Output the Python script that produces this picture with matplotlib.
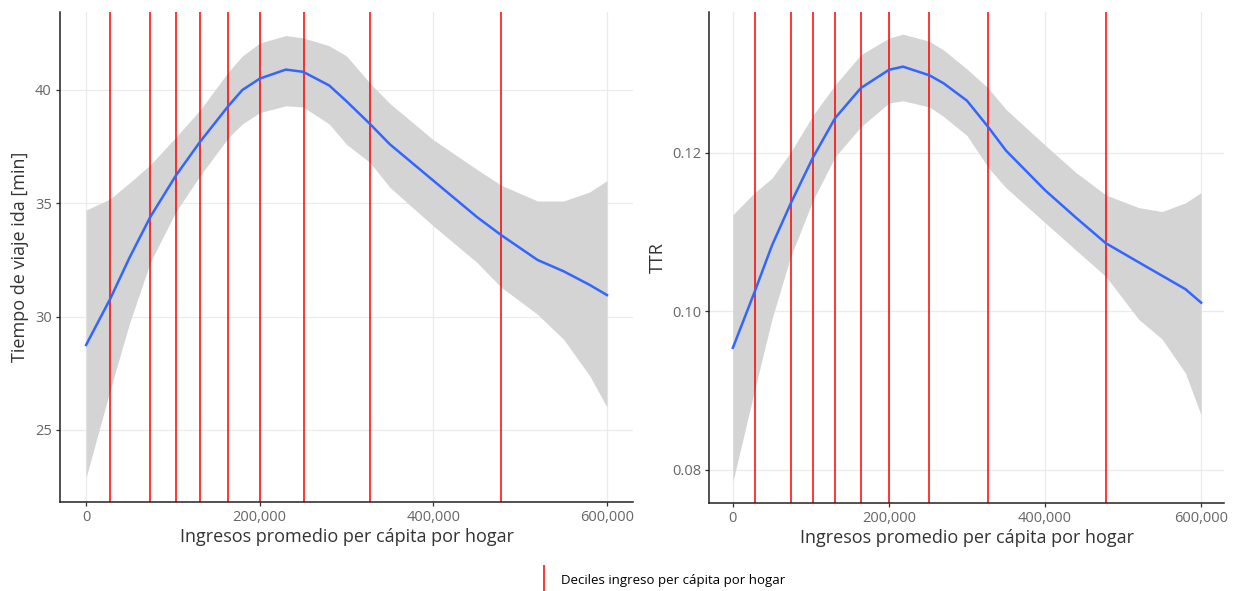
import matplotlib.pyplot as plt
from matplotlib.lines import Line2D
from matplotlib.ticker import FuncFormatter

plt.rcParams['font.family'] = ['Open Sans', 'DejaVu Sans']

# income deciles (vertical red lines)
deciles = [28000, 74000, 103000, 131000, 164000, 200000, 251000, 327000, 478000]

# left panel: travel time smooth + confidence band
x_left = [0, 28000, 50000, 74000, 103000, 131000, 164000, 180000, 200000, 230000, 250000,
          280000, 300000, 327000, 350000, 400000, 450000, 478000, 520000, 550000, 580000, 600000]
time_mean = [28.75, 30.8, 32.6, 34.4, 36.2, 37.7, 39.3, 40.0, 40.5, 40.9, 40.8,
             40.2, 39.5, 38.5, 37.6, 36.0, 34.4, 33.6, 32.5, 32.0, 31.4, 30.95]
time_upper = [34.7, 35.2, 35.9, 36.7, 37.9, 39.1, 40.8, 41.5, 42.07, 42.4, 42.3,
              41.95, 41.5, 40.3, 39.4, 37.8, 36.5, 35.8, 35.1, 35.1, 35.5, 36.0]
time_lower = [22.9, 26.8, 29.7, 32.4, 34.6, 36.2, 37.9, 38.5, 39.0, 39.3, 39.25,
              38.5, 37.6, 36.8, 35.7, 34.0, 32.4, 31.3, 30.1, 29.0, 27.4, 26.0]

# right panel: TTR smooth + confidence band
x_right = [0, 28000, 50000, 74000, 103000, 131000, 164000, 200000, 218000, 252000, 270000,
           300000, 327000, 350000, 400000, 440000, 478000, 520000, 550000, 580000, 600000]
ttr_mean = [0.0954, 0.1025, 0.1083, 0.1136, 0.1195, 0.1244, 0.1282, 0.1305, 0.1309, 0.1298, 0.1288,
            0.1266, 0.1233, 0.1203, 0.1153, 0.1118, 0.1086, 0.1062, 0.1045, 0.1028, 0.1011]
ttr_upper = [0.1122, 0.1150, 0.1168, 0.1201, 0.1248, 0.1286, 0.1324, 0.1345, 0.1350, 0.1341, 0.1330,
             0.1306, 0.1282, 0.1255, 0.1210, 0.1175, 0.1147, 0.1131, 0.1126, 0.1137, 0.1150]
ttr_lower = [0.0785, 0.0901, 0.0990, 0.1069, 0.1141, 0.1195, 0.1233, 0.1263, 0.1266, 0.1258, 0.1246,
             0.1222, 0.1182, 0.1156, 0.1112, 0.1077, 0.1044, 0.0990, 0.0965, 0.0922, 0.0869]

x_ticks = [0, 200000, 400000, 600000]
xlabel = "Ingresos promedio per cápita por hogar"

fig = plt.figure(figsize=(12.33, 5.91), dpi=100)
ax1 = fig.add_axes([0.0487, 0.1506, 0.4647, 0.8291])
ax2 = fig.add_axes([0.5754, 0.1489, 0.4177, 0.8308])

panels = [
    (ax1, x_left, time_mean, time_lower, time_upper, "Tiempo de viaje ida [min]",
     (21.82, 43.44), [25, 30, 35, 40], lambda v, p: f"{v:.0f}"),
    (ax2, x_right, ttr_mean, ttr_lower, ttr_upper, "TTR",
     (0.0758, 0.1378), [0.08, 0.10, 0.12], lambda v, p: f"{v:.2f}"),
]

for ax, xs, mean, lo, hi, ylab, ylim, yticks, yfmt in panels:
    ax.fill_between(xs, lo, hi, color='#d4d4d4', linewidth=0, zorder=1)
    for d in deciles:
        ax.axvline(d, color='#ff0000', linewidth=1.1, zorder=2)
    ax.plot(xs, mean, color='#3366ff', linewidth=1.8, zorder=3)

    ax.set_xlim(-30000, 630000)
    ax.set_ylim(*ylim)
    ax.set_xticks(x_ticks)
    ax.set_yticks(yticks)
    ax.xaxis.set_major_formatter(FuncFormatter(lambda v, p: f"{v:,.0f}"))
    ax.yaxis.set_major_formatter(FuncFormatter(yfmt))
    ax.grid(True, color='#ebebeb', linewidth=0.9, zorder=0)
    ax.set_axisbelow(True)

    for s in ['top', 'right']:
        ax.spines[s].set_visible(False)
    for s in ['left', 'bottom']:
        ax.spines[s].set_color('#222222')
        ax.spines[s].set_linewidth(1.1)
    ax.tick_params(colors='#333333', labelcolor='#666666', labelsize=10.5,
                   length=3, width=0.9, pad=3)
    ax.set_xlabel(xlabel, fontsize=13, color='#333333', labelpad=2)
    ax.set_ylabel(ylab, fontsize=13, color='#333333', labelpad=4)

# legend at the bottom
handle = Line2D([], [], color='#ff0000', linewidth=1.1, marker='|', linestyle='None',
                markersize=22, markeredgewidth=1.1)
fig.legend([handle], ["Deciles ingreso per cápita por hogar"], loc='center',
           bbox_to_anchor=(0.535, 0.017), frameon=False, fontsize=9.5,
           handletextpad=0.6, handlelength=1.5)

fig.savefig("out.png", dpi=100)
